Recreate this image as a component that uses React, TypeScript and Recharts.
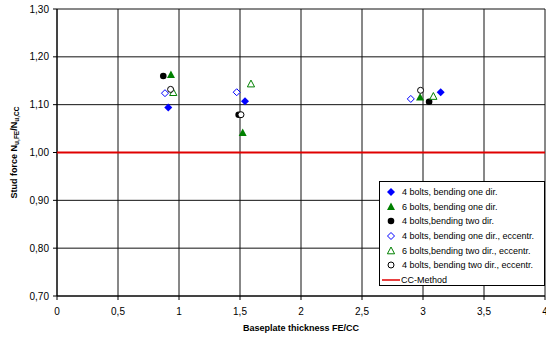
import React from 'react';
import { ScatterChart, Scatter, XAxis, YAxis, CartesianGrid, Legend, Label } from 'recharts';

// ---- data ----
const bolts4OneDir = [
  { x: 0.912, y: 1.094 },
  { x: 1.541, y: 1.107 },
  { x: 3.145, y: 1.126 },
];
const bolts6OneDir = [
  { x: 0.934, y: 1.162 },
  { x: 1.522, y: 1.041 },
  { x: 2.976, y: 1.115 },
];
const bolts4TwoDir = [
  { x: 0.871, y: 1.16 },
  { x: 1.489, y: 1.079 },
  { x: 3.05, y: 1.106 },
];
const bolts4OneDirEcc = [
  { x: 0.885, y: 1.124 },
  { x: 1.473, y: 1.126 },
  { x: 2.9, y: 1.112 },
];
const bolts6TwoDirEcc = [
  { x: 0.953, y: 1.125 },
  { x: 1.59, y: 1.143 },
  { x: 3.085, y: 1.117 },
];
const bolts4TwoDirEcc = [
  { x: 0.931, y: 1.132 },
  { x: 1.508, y: 1.079 },
  { x: 2.98, y: 1.13 },
];
const ccMethod = [
  { x: 0, y: 1.0 },
  { x: 4, y: 1.0 },
];

const xTicks = [0, 0.5, 1, 1.5, 2, 2.5, 3, 3.5, 4];
const yTicks = [0.7, 0.8, 0.9, 1.0, 1.1, 1.2, 1.3];

const seriesNames = [
  '4 bolts, bending one dir.',
  '6 bolts, bending one dir.',
  '4 bolts,bending two dir.',
  '4 bolts, bending one dir., eccentr.',
  '6 bolts,bending two dir., eccentr.',
  '4 bolts, bending two dir., eccentr.',
  'CC-Method',
];

const FONT = '"Liberation Sans", Arial, sans-serif';
const BLUE = '#0000ff';
const GREEN = '#008000';
const BLACK = '#000000';
const RED = '#e00000';

type Marker = 'diamond' | 'diamondOpen' | 'tri' | 'triOpen' | 'circle' | 'circleOpen' | 'line';

const markerOf: Record<string, Marker> = {
  [seriesNames[0]]: 'diamond',
  [seriesNames[1]]: 'tri',
  [seriesNames[2]]: 'circle',
  [seriesNames[3]]: 'diamondOpen',
  [seriesNames[4]]: 'triOpen',
  [seriesNames[5]]: 'circleOpen',
  [seriesNames[6]]: 'line',
};

function drawMarker(m: Marker, cx: number, cy: number) {
  switch (m) {
    case 'diamond':
      return <polygon points={`${cx},${cy - 4} ${cx + 4},${cy} ${cx},${cy + 4} ${cx - 4},${cy}`} fill={BLUE} />;
    case 'diamondOpen':
      return <polygon points={`${cx},${cy - 3.5} ${cx + 3.5},${cy} ${cx},${cy + 3.5} ${cx - 3.5},${cy}`} fill="#fff" stroke={BLUE} strokeWidth={1} />;
    case 'tri':
      return <polygon points={`${cx},${cy - 4.5} ${cx + 4},${cy + 3} ${cx - 4},${cy + 3}`} fill={GREEN} />;
    case 'triOpen':
      return <polygon points={`${cx},${cy - 4} ${cx + 3.6},${cy + 2.8} ${cx - 3.6},${cy + 2.8}`} fill="#fff" stroke={GREEN} strokeWidth={1} />;
    case 'circle':
      return <circle cx={cx} cy={cy} r={3.3} fill={BLACK} />;
    case 'circleOpen':
      return <circle cx={cx} cy={cy} r={3} fill="#fff" stroke={BLACK} strokeWidth={1} />;
    default:
      return null;
  }
}

const makeShape = (m: Marker) => (props: any) => {
  const { cx, cy } = props;
  if (cx == null || cy == null) return <g />;
  return <g>{drawMarker(m, cx, cy)}</g>;
};

const noShape = () => <g />;

const renderLegend = (props: any) => {
  const payload = [...(props.payload || [])].sort(
    (a: any, b: any) => seriesNames.indexOf(a.value) - seriesNames.indexOf(b.value)
  );
  return (
    <div
      style={{
        border: '1px solid #000',
        background: '#fff',
        width: 166,
        height: 105,
        boxSizing: 'border-box',
        paddingTop: 3,
        fontFamily: FONT,
        fontSize: 9,
        color: '#000',
      }}
    >
      {payload.map((e: any) => {
        const m = markerOf[e.value] || 'circle';
        return (
          <div key={e.value} style={{ height: 14.6, display: 'flex', alignItems: 'center', whiteSpace: 'nowrap' }}>
            <svg width={21} height={12} style={{ display: 'block', flex: 'none' }}>
              {m === 'line' ? (
                <line x1={2} y1={6} x2={20} y2={6} stroke={RED} strokeWidth={1.5} />
              ) : (
                drawMarker(m, 11, 6)
              )}
            </svg>
            <span style={{ marginLeft: m === 'line' ? 0 : 1 }}>{e.value}</span>
          </div>
        );
      })}
    </div>
  );
};

const fmt = (v: number, d: number) => v.toFixed(d).replace('.', ',');
const fmtX = (v: number) => String(v).replace('.', ',');

const YLabel = (props: any) => {
  const vb = props.viewBox || { x: 0, y: 0, width: 57, height: 287 };
  const cx = vb.x + 14;
  const cy = vb.y + vb.height / 2;
  return (
    <text
      x={cx}
      y={cy}
      transform={`rotate(-90, ${cx}, ${cy})`}
      textAnchor="middle"
      dominantBaseline="central"
      fontFamily={FONT}
      fontSize={9}
      fontWeight="bold"
      fill="#000"
    >
      Stud force N
      <tspan fontSize={6.5} dy={2}>u,FE</tspan>
      <tspan dy={-2}>/N</tspan>
      <tspan fontSize={6.5} dy={2}>u,CC</tspan>
    </text>
  );
};

const XLabel = (props: any) => {
  const vb = props.viewBox || { x: 57, y: 296, width: 488, height: 30 };
  return (
    <text
      x={vb.x + vb.width / 2}
      y={vb.y + 32}
      textAnchor="middle"
      dominantBaseline="central"
      fontFamily={FONT}
      fontSize={9}
      fontWeight="bold"
      fill="#000"
    >
      Baseplate thickness FE/CC
    </text>
  );
};

export default function App() {
  const tickStyle = { fontSize: 10, fill: '#000', fontFamily: FONT };
  return (
    <div style={{ position: 'absolute', left: 0, top: 0, width: 546, height: 338, background: '#fff' }}>
      <ScatterChart width={546} height={338} margin={{ top: 9, right: 1, bottom: 12, left: 0 }}>
        <CartesianGrid stroke="#111" strokeWidth={1} />
        <XAxis
          type="number"
          dataKey="x"
          domain={[0, 4]}
          ticks={xTicks}
          tickFormatter={fmtX}
          allowDataOverflow
          height={30}
          tickSize={4}
          tickMargin={8}
          stroke="#000"
          tick={tickStyle}
          interval={0}
        >
          <Label content={<XLabel />} />
        </XAxis>
        <YAxis
          type="number"
          dataKey="y"
          domain={[0.7, 1.3]}
          ticks={yTicks}
          tickFormatter={(v: number) => fmt(v, 2)}
          allowDataOverflow
          width={57}
          tickSize={4}
          tickMargin={4}
          stroke="#000"
          tick={tickStyle}
          interval={0}
        >
          <Label content={<YLabel />} />
        </YAxis>
        <Legend
          layout="vertical"
          align="center"
          verticalAlign="middle"
          wrapperStyle={{ left: 379, top: 181, width: 166 }}
          content={renderLegend}
        />
        <Scatter name={seriesNames[0]} data={bolts4OneDir} fill={BLUE} shape={makeShape('diamond')} isAnimationActive={false} />
        <Scatter name={seriesNames[1]} data={bolts6OneDir} fill={GREEN} shape={makeShape('tri')} isAnimationActive={false} />
        <Scatter name={seriesNames[2]} data={bolts4TwoDir} fill={BLACK} shape={makeShape('circle')} isAnimationActive={false} />
        <Scatter name={seriesNames[3]} data={bolts4OneDirEcc} fill={BLUE} shape={makeShape('diamondOpen')} isAnimationActive={false} />
        <Scatter name={seriesNames[4]} data={bolts6TwoDirEcc} fill={GREEN} shape={makeShape('triOpen')} isAnimationActive={false} />
        <Scatter name={seriesNames[5]} data={bolts4TwoDirEcc} fill={BLACK} shape={makeShape('circleOpen')} isAnimationActive={false} />
        <Scatter
          name={seriesNames[6]}
          data={ccMethod}
          fill={RED}
          line={{ stroke: RED, strokeWidth: 2 }}
          shape={noShape}
          legendType="line"
          isAnimationActive={false}
        />
      </ScatterChart>
    </div>
  );
}
